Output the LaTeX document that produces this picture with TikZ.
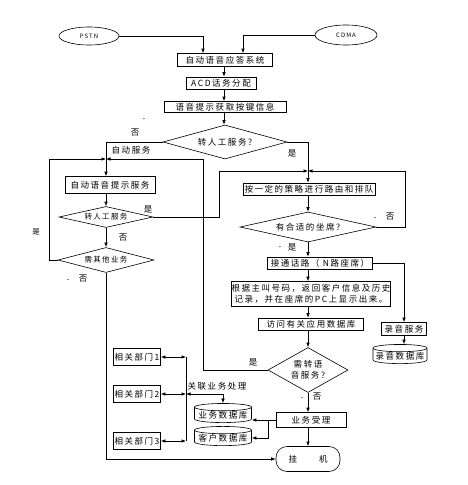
\documentclass[tikz,border=0pt]{standalone}
\usepackage{fontspec}
\setmainfont{Noto Sans CJK SC}[LetterSpace=18]
\usetikzlibrary{shapes.geometric,arrows.meta}

\begin{document}
\begin{tikzpicture}[x=1pt,y=-1pt,>={Latex[length=4.5pt,width=3.5pt]},line width=0.6pt,
        every node/.style={inner sep=0pt,font=\fontsize{8.5}{11}\selectfont},
        box/.style={draw,rectangle,minimum height=12},
        choice/.style={draw,diamond},
        store/.style={draw,cylinder,shape border rotate=90,aspect=0.15},
        small/.style={font=\fontsize{7.5}{9}\selectfont}]
        \useasboundingbox (0,0) rectangle (467,485);

        % Call sources
        \node[draw,ellipse,minimum width=60,minimum height=18,font=\fontsize{6}{7}\selectfont] (pstn) at (89,36) {PSTN};
        \node[draw,ellipse,minimum width=62,minimum height=20,font=\fontsize{6}{7}\selectfont] (cdma) at (346,35) {CDMA};

        % Upper column
        \node[box,minimum width=95,minimum height=13] (ivr) at (225,60) {自动语音应答系统};
        \node[box,minimum width=70] (acd) at (221,83) {ACD话务分配};
        \node[box,minimum width=122,minimum height=11] (prompt) at (225,107) {语音提示获取按键信息};
        \node[choice,aspect=3.6,minimum width=124,minimum height=34] (manual) at (225,142) {转人工服务?};
        \coordinate (inP) at (203,0);
        \coordinate (inC) at (243,0);
        \coordinate (c1) at (224,0);
        \draw[->] (pstn.east) -| (ivr.north -| inP);
        \draw[->] (cdma.west) -| (ivr.north -| inC);
        \draw[->] (ivr.south -| c1) -- (acd.north -| c1);
        \draw[->] (acd.south -| c1) -- (prompt.north -| c1);
        \draw[->] (prompt.south -| c1) -- (manual.north -| c1);

        % Automatic service (left column)
        \coordinate (j1) at (106,159);
        \coordinate (lp) at (49,159);
        \coordinate (rp) at (203,159);
        \node[box,minimum width=90,minimum height=17] (auto) at (110,185) {自动语音提示服务};
        \node[choice,aspect=4.5,minimum width=94,minimum height=21,small] (manual2) at (106,217) {转人工服务};
        \node[choice,aspect=3.8,minimum width=96,minimum height=25,small] (other) at (106,260) {需其他业务};
        \draw (manual.west) -| (j1);
        \draw[->] (j1) -- (auto.north -| j1);
        \draw[->] (auto.south -| j1) -- (manual2.north);
        \draw[->] (manual2.south) -- (other.north);
        \draw[->] (other.west) -| (lp) -- (j1);
        \node (no1) at (135,133) {否};
        \node (autolbl) at (131,150) {自动服务};
        \node (yes2) at (148,209) {是};
        \node (no2) at (123,238) {否};
        \node[small] (yes3) at (36,232) {是};
        \node (no3) at (83,279) {否};

        % Manual service (right column)
        \coordinate (j2) at (308,171);
        \coordinate (mp) at (219,171);
        \coordinate (sp) at (405,171);
        \node[box,minimum width=132] (route) at (309,189) {按一定的策略进行路由和排队};
        \node[choice,aspect=4.6,minimum width=136,minimum height=30] (seat) at (308,227) {有合适的坐席?};
        \node[box,minimum width=105] (connect) at (320,263) {接通话路（ N路座席）};
        \node[box,minimum width=152,minimum height=25,align=center] (info) at (311,294) {根据主叫号码，返回客户信息及历史\\记录，并在座席的PC上显示出来。};
        \node[box,minimum width=105] (db) at (311,324) {访问有关应用数据库};
        \node[choice,aspect=1.8,minimum width=80,minimum height=45,align=center] (voice) at (308,370) {需转语\\音服务?};
        \node[box,minimum width=70,minimum height=15] (biz) at (311,420) {业务受理};
        \node[draw,rectangle,rounded corners=11,minimum width=64,minimum height=25] (hang) at (308,459) {挂\hspace{22pt}机};
        \draw (manual.east) -| (j2);
        \draw[->] (manual2.east) -| (mp) -- (j2);
        \draw[->] (seat.east) -| (sp) -- (j2);
        \draw[->] (j2) -- (route.north -| j2);
        \draw[->] (route.south -| j2) -- (seat.north);
        \draw[->] (seat.south) -- (connect.north -| j2);
        \draw[->] (connect.south -| j2) -- (info.north -| j2);
        \draw[->] (info.south -| j2) -- (db.north -| j2);
        \draw[->] (db.south -| j2) -- (voice.north);
        \draw[->] (voice.south) -- (biz.north -| j2);
        \draw[->] (biz.south -| j2) -- (hang.north);
        \draw[->] (voice.west) -| (rp) -- (j1);
        \draw[->] (other.south) |- (hang.west);
        \node (yes1) at (292,153) {是};
        \node (no4) at (390,217) {否};
        \node (yes4) at (292,247) {是};
        \node (yes5) at (253,362) {是};
        \node (no5) at (317,397) {否};

        % Recording
        \node[box,minimum width=45,minimum height=13] (rec) at (404,329) {录音服务};
        \node[store,minimum width=54,minimum height=17] (recdb) at (400,356) {录音数据库};
        \draw[->] (connect.east) -| (rec.north);
        \draw[->] (rec.south) -- (recdb.north -| rec.south);

        % Related departments and databases
        \coordinate (bus) at (186,0);
        \coordinate (br) at (268,0);
        \node[box,minimum width=47,minimum height=17] (dept1) at (137,357) {相关部门1};
        \node[box,minimum width=47,minimum height=17] (dept2) at (137,394) {相关部门2};
        \node[box,minimum width=47,minimum height=17] (dept3) at (137,441) {相关部门3};
        \node[store,minimum width=57,minimum height=17] (bizdb) at (223,415) {业务数据库};
        \node[store,minimum width=57,minimum height=17] (custdb) at (223,438) {客户数据库};
        \draw (dept1.east -| bus) -- (dept3.east -| bus);
        \foreach \d in {dept1,dept2,dept3}
            \draw[<->] (\d.east) -- (\d.east -| bus);
        \draw[<->] (dept2.east -| bus) -| (bizdb.north);
        \draw[->] (biz.west) -- (biz.west -| bizdb.east);
        \draw[->] (biz.west -| br) |- (custdb.east);
        \node (rellbl) at (217,386) {关联业务处理};

        % Stray dots
        \foreach \p [count=\i] in {(144,119),(68,280),(280,247),(375,218),(302,398)}
            \node (dot\i) at \p {.};
    \end{tikzpicture}
\end{document}
